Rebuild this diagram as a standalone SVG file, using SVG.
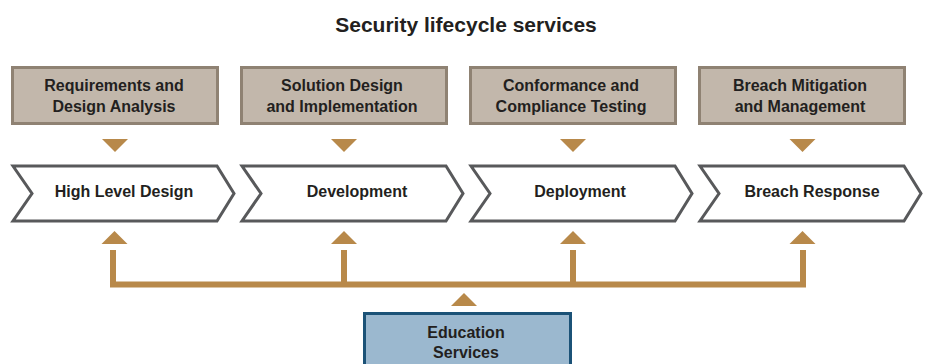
<svg xmlns="http://www.w3.org/2000/svg" width="928" height="364" viewBox="0 0 928 364">
<style>
  text { font-family: "Liberation Sans", Arial, sans-serif; font-weight: bold; fill: #231f20; text-anchor: middle; }
  .title { font-size: 21px; }
  .lbl { font-size: 16px; }
  .svc { fill: #c2b7ab; stroke: #8f8273; stroke-width: 3; }
  .stage { fill: #ffffff; stroke: #58595b; stroke-width: 3; stroke-linejoin: miter; }
  .edu { fill: #9bb8cf; stroke: #1b5277; stroke-width: 3; }
  .tri { fill: #b8894a; }
  .line { fill: none; stroke: #b8894a; stroke-width: 6; stroke-linejoin: miter; }
</style>
<defs>
  <polygon id="down" points="-13,0 13,0 0,13"/>
  <polygon id="up" points="-13,13 13,13 0,0"/>
</defs>

<text class="title" x="466" y="32">Security lifecycle services</text>

<g id="svc-requirements">
  <rect class="svc" x="12.5" y="67.5" width="205" height="56"/>
  <text class="lbl" x="114" y="91">Requirements and</text>
  <text class="lbl" x="114" y="112">Design Analysis</text>
</g>
<g id="svc-solution">
  <rect class="svc" x="241.5" y="67.5" width="205" height="56"/>
  <text class="lbl" x="342" y="91">Solution Design</text>
  <text class="lbl" x="342" y="112">and Implementation</text>
</g>
<g id="svc-conformance">
  <rect class="svc" x="470.5" y="67.5" width="205" height="56"/>
  <text class="lbl" x="571" y="91">Conformance and</text>
  <text class="lbl" x="571" y="112">Compliance Testing</text>
</g>
<g id="svc-breach">
  <rect class="svc" x="699.5" y="67.5" width="205" height="56"/>
  <text class="lbl" x="800" y="91">Breach Mitigation</text>
  <text class="lbl" x="800" y="112">and Management</text>
</g>

<g id="stage-hld">
  <polygon class="stage" points="13,166 217,166 234,193.5 217,221 13,221 32,193.5"/>
  <text class="lbl" x="124" y="197">High Level Design</text>
</g>
<g id="stage-dev">
  <polygon class="stage" points="242,166 446,166 463,193.5 446,221 242,221 261,193.5"/>
  <text class="lbl" x="357" y="197">Development</text>
</g>
<g id="stage-deploy">
  <polygon class="stage" points="471,166 675,166 692,193.5 675,221 471,221 490,193.5"/>
  <text class="lbl" x="580" y="197">Deployment</text>
</g>
<g id="stage-breach">
  <polygon class="stage" points="700,166 904,166 921,193.5 904,221 700,221 719,193.5"/>
  <text class="lbl" x="812" y="197">Breach Response</text>
</g>

<g id="edu">
  <rect class="edu" x="364.5" y="313.5" width="206" height="60"/>
  <text class="lbl" x="466" y="338">Education</text>
  <text class="lbl" x="466" y="358">Services</text>
</g>

<g id="connectors">
  <use href="#down" class="tri" x="115" y="139"/>
  <use href="#down" class="tri" x="344" y="139"/>
  <use href="#down" class="tri" x="573" y="139"/>
  <use href="#down" class="tri" x="802.5" y="139"/>
  <use href="#up" class="tri" x="114.5" y="231"/>
  <use href="#up" class="tri" x="344" y="231"/>
  <use href="#up" class="tri" x="573" y="231"/>
  <use href="#up" class="tri" x="802.5" y="231"/>
  <path class="line" d="M113 250 V284.5 H803 V250"/>
  <path class="line" d="M344 250 V284.5 M573 250 V284.5"/>
  <use href="#up" class="tri" x="464" y="293"/>
</g>
</svg>
